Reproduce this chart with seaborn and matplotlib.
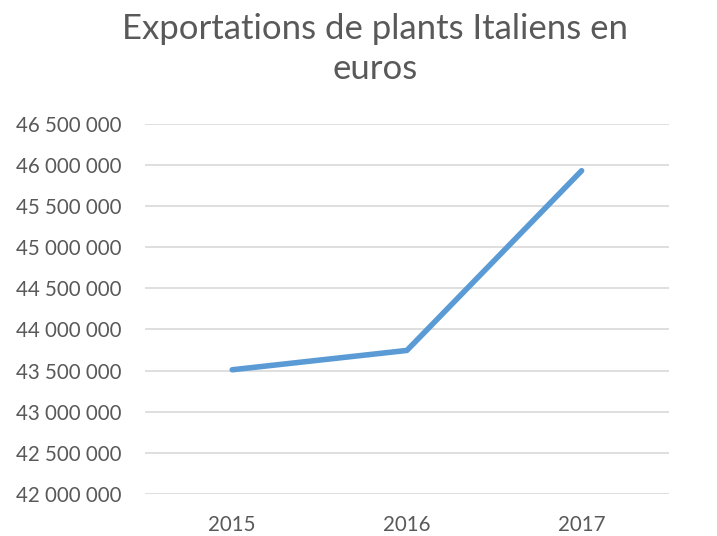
import matplotlib
matplotlib.use("Agg")
import pandas as pd
import seaborn as sns
from matplotlib import pyplot as plt
from matplotlib.ticker import FuncFormatter

years = ["2015", "2016", "2017"]
exports = [43510000, 43745000, 45930000]

df = pd.DataFrame({"annee": years, "euros": exports})

sns.set_style("white")
plt.rcParams['font.family'] = ['Lato', 'DejaVu Sans']

fig = plt.figure(figsize=(7.17, 5.36), dpi=100)
ax = fig.add_axes([0.202, 0.0784, 0.731, 0.6906])

sns.lineplot(data=df, x="annee", y="euros", ax=ax, color="#5B9BD5",
             linewidth=4, solid_capstyle="round", solid_joinstyle="round",
             zorder=3)

ax.set_ylim(42000000, 46500000)
ax.set_xlim(-0.5, 2.5)
ax.set_yticks(range(42000000, 46500001, 500000))
ax.yaxis.set_major_formatter(FuncFormatter(lambda v, p: f"{int(v):,}".replace(",", " ")))
ax.grid(axis="y", color="#D9D9D9", linewidth=1.2)
ax.set_axisbelow(True)
for s in ax.spines.values():
    s.set_visible(False)
ax.tick_params(axis="both", length=0, labelsize=14.8, labelcolor="#595959")
ax.tick_params(axis="y", pad=16.5)
ax.tick_params(axis="x", pad=15)
ax.set_xlabel("")
ax.set_ylabel("")

fig.text(0.523, 0.975, "Exportations de plants Italiens en\neuros", ha="center", va="top",
         fontsize=25, color="#595959", linespacing=1.3)

fig.savefig("out.png", dpi=100)
